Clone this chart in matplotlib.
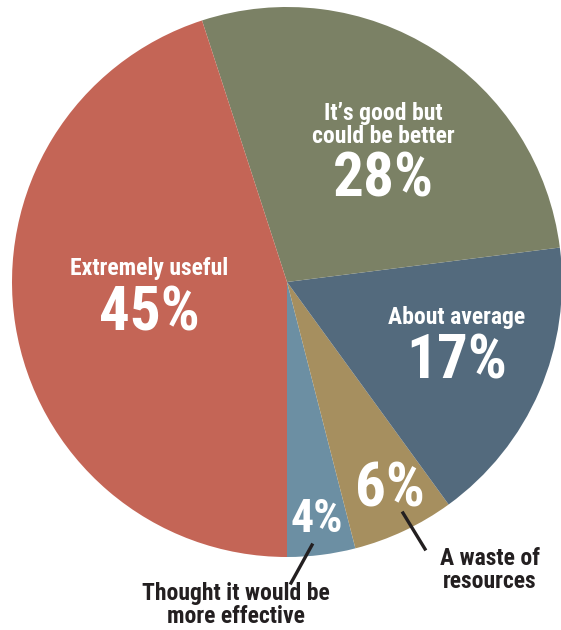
import matplotlib
matplotlib.use('Agg')
import matplotlib.pyplot as plt

# Survey answers, drawn counter-clockwise from the bottom
labels = ['Thought it would be\nmore effective', 'A waste of\nresources',
          'About average', 'It\u2019s good but\ncould be better', 'Extremely useful']
shares = [4, 6, 17, 28, 45]
colors = ['#6c8fa3', '#a68f5f', '#536a7d', '#7b8165', '#c46556']

FONT = ['Roboto Condensed', 'Liberation Sans Narrow', 'DejaVu Sans']
DARK = '#231f20'
SMALL, BIG = 17, 44

W, H = 561, 630
cx, cy, R = 287, 282, 275

fig = plt.figure(figsize=(W / 100, H / 100), dpi=100)
ax = fig.add_axes([(cx - R) / W, (H - cy - R) / H, 2 * R / W, 2 * R / H])
ax.pie(shares, colors=colors, startangle=270, counterclock=True,
       wedgeprops=dict(linewidth=0))
ax.set_xlim(-1, 1)
ax.set_ylim(-1, 1)
ax.set_aspect('equal')


def pt(px, py):
    return (px - cx) / R, (cy - py) / R


def text(px, py, s, size, color='white'):
    ax.text(*pt(px, py), s, ha='center', va='center', color=color,
            fontsize=size, fontweight='bold', family=FONT, linespacing=1.0,
            fontstretch='condensed', clip_on=False)


# big slices: label and value inside
text(383, 125, labels[3], SMALL)
text(383, 180, f'{shares[3]}%', BIG)
text(149, 269, labels[4], SMALL)
text(149, 314, f'{shares[4]}%', BIG)
text(457, 318, labels[2], SMALL)
text(457, 362, f'{shares[2]}%', BIG)

# small slices: value inside, label outside with a leader line
text(390, 490, f'{shares[1]}%', BIG)
text(317, 519, f'{shares[0]}%', 33)

x0, y0 = pt(403, 513)
x1, y1 = pt(425, 549)
ax.plot([x0, x1], [y0, y1], color=DARK, lw=2.4, clip_on=False)
x0, y0 = pt(312, 545)
x1, y1 = pt(291, 583)
ax.plot([x0, x1], [y0, y1], color=DARK, lw=2.4, clip_on=False)

text(490, 570, labels[1], SMALL, DARK)
text(236, 605, labels[0], SMALL, DARK)

fig.savefig('out.png', dpi=100)
